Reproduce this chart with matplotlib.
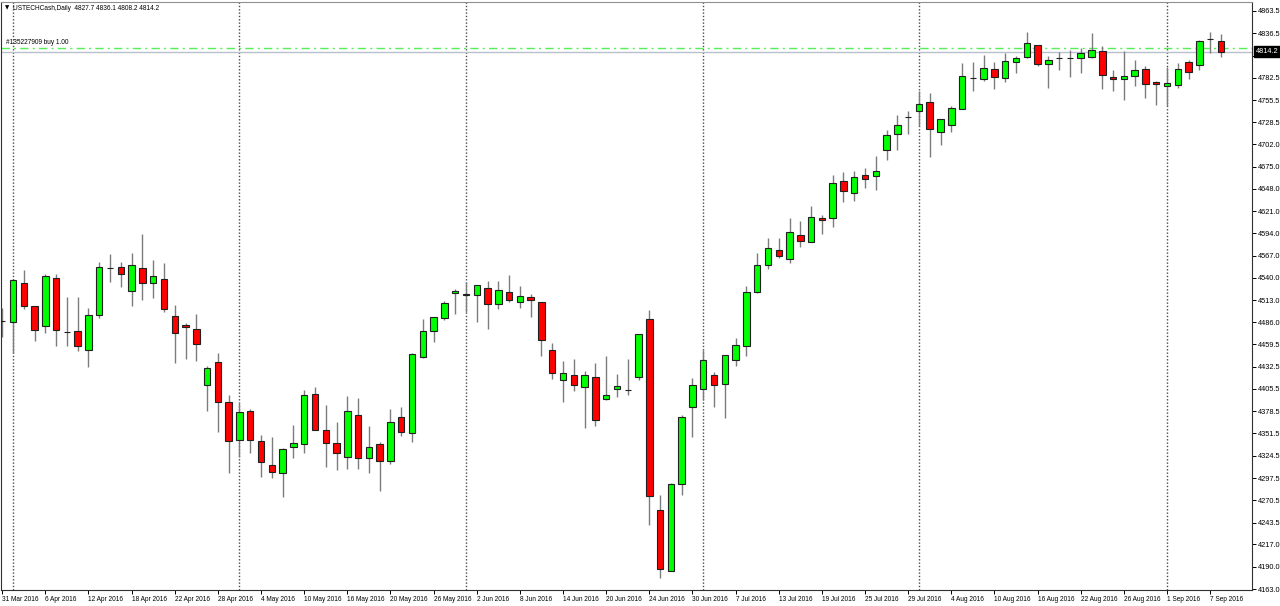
import matplotlib
matplotlib.use("Agg")
import matplotlib.pyplot as plt
import matplotlib.transforms as mtransforms
import numpy as np

# ---------------- data ----------------
symbol = "USTECHCash,Daily"
order_label = "#135227909 buy 1.00"
order_price = 4819.0

opens = [4487.8, 4486.2, 4533.5, 4505.6, 4481.8, 4539.6, 4474.8, 4475.3, 4452.7, 4494.7,
         4552.6, 4553.6, 4524.2, 4551.7, 4533.8, 4538.7, 4493.9, 4482.6, 4478.1, 4409.9,
         4437.8, 4389.3, 4343.6, 4378.7, 4342.7, 4313.7, 4303.2, 4334.7, 4338.8, 4399.3,
         4355.4, 4340.3, 4323.4, 4373.9, 4321.4, 4338.4, 4318.5, 4371.5, 4352.4, 4444.5,
         4475.7, 4491.1, 4521.4, 4520.1, 4519.1, 4527.8, 4508.1, 4522.6, 4511.2, 4516.5,
         4510.8, 4452.3, 4416.3, 4422.0, 4408.2, 4420.3, 4392.9, 4405.8, 4404.4, 4419.6,
         4489.9, 4258.8, 4185.2, 4289.9, 4384.0, 4405.8, 4422.0, 4411.5, 4440.9, 4457.5,
         4523.3, 4556.0, 4573.9, 4563.3, 4592.0, 4583.2, 4613.0, 4612.3, 4657.8, 4642.6,
         4664.4, 4663.2, 4695.4, 4714.1, 4735.6, 4742.0, 4753.6, 4716.5, 4725.3, 4744.7,
         4782.5, 4780.7, 4793.2, 4782.7, 4801.3, 4807.4, 4822.3, 4799.3, 4807.1, 4806.6,
         4806.5, 4808.1, 4815.4, 4783.5, 4781.1, 4784.7, 4792.8, 4777.1, 4772.6, 4773.5,
         4801.3, 4798.0, 4829.3, 4827.7]
highs = [4503.9, 4538.1, 4549.6, 4506.4, 4544.8, 4544.8, 4516.5, 4516.5, 4503.6, 4559.0,
         4569.0, 4559.0, 4569.9, 4592.9, 4561.7, 4557.7, 4506.8, 4485.7, 4495.9, 4433.3,
         4448.7, 4398.1, 4388.4, 4380.8, 4349.7, 4347.6, 4333.9, 4361.8, 4404.2, 4407.4,
         4386.0, 4365.4, 4396.6, 4394.9, 4360.6, 4341.5, 4380.8, 4383.6, 4449.4, 4490.2,
         4492.6, 4512.0, 4526.2, 4535.4, 4531.6, 4536.6, 4535.9, 4543.9, 4530.2, 4520.9,
         4511.2, 4460.8, 4439.0, 4441.4, 4426.8, 4436.9, 4445.0, 4423.2, 4441.8, 4472.6,
         4500.8, 4276.6, 4291.0, 4373.9, 4419.1, 4453.0, 4426.0, 4446.6, 4467.2, 4530.2,
         4570.2, 4588.0, 4588.8, 4612.3, 4609.3, 4626.6, 4615.9, 4664.7, 4668.4, 4670.0,
         4673.8, 4687.2, 4719.3, 4737.1, 4742.3, 4766.5, 4764.5, 4732.6, 4748.3, 4800.1,
         4801.3, 4810.2, 4801.7, 4813.0, 4808.6, 4837.7, 4822.8, 4809.0, 4813.8, 4816.2,
         4818.7, 4836.5, 4821.1, 4792.0, 4815.4, 4804.1, 4796.8, 4778.3, 4795.3, 4800.0,
         4804.1, 4828.4, 4838.4, 4836.1]
lows = [4468.8, 4449.4, 4502.0, 4463.6, 4473.6, 4457.5, 4457.5, 4451.8, 4432.4, 4491.5,
        4535.4, 4528.7, 4506.0, 4513.3, 4515.7, 4498.7, 4437.3, 4442.1, 4439.3, 4379.1,
        4353.7, 4304.0, 4323.4, 4327.5, 4299.1, 4297.9, 4274.9, 4321.4, 4328.2, 4355.2,
        4311.2, 4307.2, 4308.1, 4308.8, 4303.2, 4282.2, 4314.5, 4348.4, 4341.5, 4442.6,
        4462.7, 4489.0, 4496.3, 4499.3, 4486.0, 4477.8, 4502.0, 4510.5, 4503.9, 4493.0,
        4445.8, 4417.9, 4390.0, 4402.6, 4358.5, 4360.9, 4392.1, 4395.7, 4398.5, 4416.3,
        4240.6, 4176.7, 4184.5, 4277.3, 4346.9, 4392.1, 4383.6, 4370.6, 4433.3, 4445.0,
        4521.4, 4551.2, 4564.5, 4557.7, 4577.9, 4583.0, 4593.3, 4602.3, 4632.6, 4633.6,
        4648.6, 4646.0, 4682.9, 4695.1, 4714.1, 4724.1, 4686.9, 4701.1, 4716.9, 4744.2,
        4766.9, 4778.7, 4769.3, 4777.6, 4788.7, 4807.0, 4796.8, 4770.6, 4792.0, 4783.9,
        4788.7, 4806.2, 4768.6, 4766.9, 4755.6, 4773.0, 4757.7, 4749.9, 4748.4, 4770.5,
        4781.1, 4792.0, 4812.2, 4808.2]
closes = [4488.4, 4536.9, 4506.0, 4476.9, 4542.4, 4476.9, 4474.3, 4457.2, 4495.4, 4553.3,
          4552.2, 4544.4, 4555.3, 4534.2, 4542.7, 4502.7, 4473.6, 4480.2, 4460.3, 4431.2,
          4390.0, 4342.4, 4377.2, 4343.6, 4316.6, 4305.2, 4333.1, 4340.3, 4398.5, 4355.7,
          4340.3, 4328.2, 4378.7, 4321.4, 4334.7, 4318.5, 4365.0, 4353.3, 4447.5, 4475.3,
          4492.3, 4509.3, 4523.8, 4519.7, 4531.1, 4508.1, 4525.0, 4513.6, 4518.5, 4513.6,
          4465.2, 4424.4, 4424.4, 4410.6, 4422.7, 4367.5, 4397.8, 4408.7, 4404.0, 4472.1,
          4276.1, 4186.9, 4290.6, 4371.5, 4410.6, 4440.9, 4410.6, 4446.2, 4458.7, 4522.6,
          4555.3, 4576.3, 4566.6, 4595.7, 4584.4, 4613.9, 4610.6, 4654.7, 4644.8, 4662.7,
          4659.5, 4669.3, 4713.2, 4725.7, 4735.2, 4751.2, 4720.1, 4732.3, 4745.6, 4784.7,
          4782.1, 4794.1, 4783.5, 4802.5, 4806.5, 4825.1, 4799.3, 4804.1, 4806.7, 4806.4,
          4812.2, 4816.2, 4785.9, 4781.1, 4785.1, 4791.6, 4774.7, 4774.7, 4775.9, 4793.2,
          4789.9, 4827.1, 4829.0, 4814.2]

date_labels = ["31 Mar 2016", "6 Apr 2016", "12 Apr 2016", "18 Apr 2016", "22 Apr 2016",
               "28 Apr 2016", "4 May 2016", "10 May 2016", "16 May 2016", "20 May 2016",
               "26 May 2016", "2 Jun 2016", "8 Jun 2016", "14 Jun 2016", "20 Jun 2016",
               "24 Jun 2016", "30 Jun 2016", "7 Jul 2016", "13 Jul 2016", "19 Jul 2016",
               "25 Jul 2016", "29 Jul 2016", "4 Aug 2016", "10 Aug 2016", "16 Aug 2016",
               "22 Aug 2016", "26 Aug 2016", "1 Sep 2016", "7 Sep 2016"]
label_step = 4
separator_bars = [1, 22, 43, 65, 85, 108]   # first bar of each month
y_ticks = [4863.5, 4836.5, 4809.5, 4782.5, 4755.5, 4728.5, 4702.0, 4675.0, 4648.0,
           4621.0, 4594.0, 4567.0, 4540.0, 4513.0, 4486.0, 4459.5, 4432.5, 4405.5,
           4378.5, 4351.5, 4324.5, 4297.5, 4270.5, 4243.5, 4217.0, 4190.0, 4163.0]

# ---------------- drawing ----------------
FONT = "Liberation Sans"
FS_Y = 5.3
FS_X = 4.7
W, H = 1280, 606
fig = plt.figure(figsize=(W / 100, H / 100), dpi=100, facecolor="white")
ax = fig.add_axes([1 / W, 16 / H, 1251 / W, 588 / H])
ax.set_facecolor("white")

o = np.array(opens); h = np.array(highs); l = np.array(lows); c = np.array(closes)
x = np.arange(len(o))

# month separators
for s in separator_bars:
    ax.axvline(s, color="#4a4a4a", lw=1.0, ls=(0, (1.0, 1.4)), zorder=1)

# wicks
ax.vlines(x, l, h, colors="#7c7c7c", lw=1.0, zorder=2)
# bodies
colors = np.where(c > o + 0.5, "#00ff00", np.where(c < o - 0.5, "#ff0000", "black"))
heights = c - o
ax.bar(x, heights, bottom=o, width=0.6, color=colors, edgecolor="#202020",
       linewidth=0.8, zorder=3)

# current price line and order line
last_price = closes[-1]
ax.axhline(last_price, color="#b8c0cc", lw=1.0, zorder=1.5)
ax.axhline(order_price, color="#55f055", lw=1.0, ls=(0, (6, 3, 1.5, 3)), zorder=1.6)
ax.text(5 / 1251, order_price + 1.5, order_label, fontsize=FS_X, family=FONT,
        transform=mtransforms.blended_transform_factory(ax.transAxes, ax.transData),
        va="bottom", ha="left", color="black", zorder=5)

# axes limits
ax.set_xlim(-0.11, 115.88)
ax.set_ylim(4161.8, 4874.4)

# y axis at right
ax.yaxis.tick_right()
ax.set_yticks(y_ticks)
ax.set_yticklabels([f"{v:.1f}" for v in y_ticks], fontsize=FS_Y, family=FONT)
ax.tick_params(axis="y", direction="out", length=3, width=0.7, pad=1.5, colors="black")

# x axis labels
tick_pos = np.arange(len(date_labels)) * label_step
ax.set_xticks(tick_pos)
ax.set_xticklabels(date_labels, fontsize=FS_X, family=FONT, ha="left")
ax.tick_params(axis="x", direction="out", length=3, width=0.7, pad=1.5, colors="black")

for sp in ax.spines.values():
    sp.set_color("#303030")
    sp.set_linewidth(0.8)
ax.spines["top"].set_color("#909090")

# last price box
ax.annotate(f"{last_price:.1f}", xy=(1.0, last_price),
            xycoords=mtransforms.blended_transform_factory(ax.transAxes, ax.transData),
            xytext=(3, 0), textcoords="offset points", fontsize=FS_Y, family=FONT,
            color="white", va="center", ha="left", zorder=10, annotation_clip=False,
            bbox=dict(boxstyle="square,pad=0.25", fc="black", ec="black"))

# header
fig.text(5 / W, 1 - 8 / H, "\u25bc", fontsize=4, family="DejaVu Sans", va="center", ha="left")
fig.text(13 / W, 1 - 8 / H,
         f"{symbol}  {opens[-1]:.1f} {highs[-1]:.1f} {lows[-1]:.1f} {closes[-1]:.1f}",
         fontsize=FS_X, family=FONT, va="center", ha="left")

fig.savefig("out.png", dpi=100, facecolor="white")
